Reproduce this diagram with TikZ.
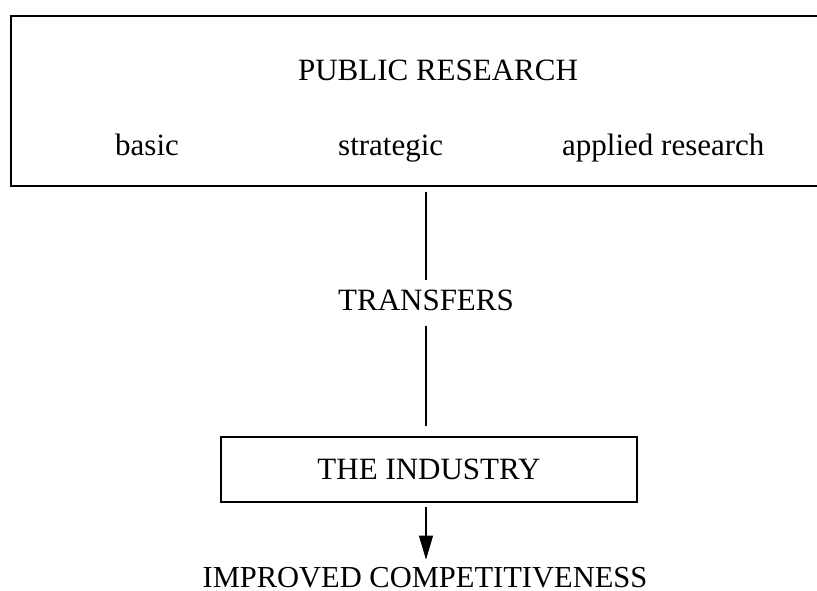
\documentclass[tikz,border=0pt]{standalone}
\usepackage{fontspec}
\setmainfont{Liberation Serif}
\usetikzlibrary{arrows.meta}
\begin{document}
\begin{tikzpicture}[x=1pt,y=-1pt,
  label/.style={inner sep=0pt,font=\fontsize{31}{36}\selectfont},
  frame/.style={draw,line width=1.1pt,inner sep=0pt},
  link/.style={line width=1.1pt}]
\useasboundingbox (0,0) rectangle (817,590);

% public research block (runs off the right edge)
\node[frame,minimum width=819pt,minimum height=170pt] (pub) at (420.5,101) {};
\node[label,anchor=base] (title) at (438,80) {PUBLIC RESEARCH};
\node[label,anchor=base west] (basic) at (115,155) {basic};
\node[label,anchor=base west] (strat) at (338,155) {strategic};
\node[label,anchor=base west] (appl) at (562,155) {applied research};

% transfer channel
\node[label,anchor=base] (tr) at (426,310) {TRANSFERS};

% industry block
\node[frame,label,minimum width=416pt,minimum height=65pt] (ind) at (429,469.5) {THE INDUSTRY};

% outcome
\node[label,anchor=base,text depth=0pt,font=\fontsize{30.5}{36}\selectfont] (imp) at (425,587) {IMPROVED COMPETITIVENESS};

% connectors
\draw[link,shorten <=5pt,shorten >=9pt] (pub.south -| tr.center) -- (tr.north);
\draw[link,shorten <=15pt,shorten >=10pt] (tr.south) -- (ind.north -| tr.south);
\draw[link,shorten <=4pt,shorten >=7pt,-{Triangle[length=24pt,width=14pt]}]
  (ind.south -| tr.south) -- (imp.north -| tr.south);
\end{tikzpicture}
\end{document}
